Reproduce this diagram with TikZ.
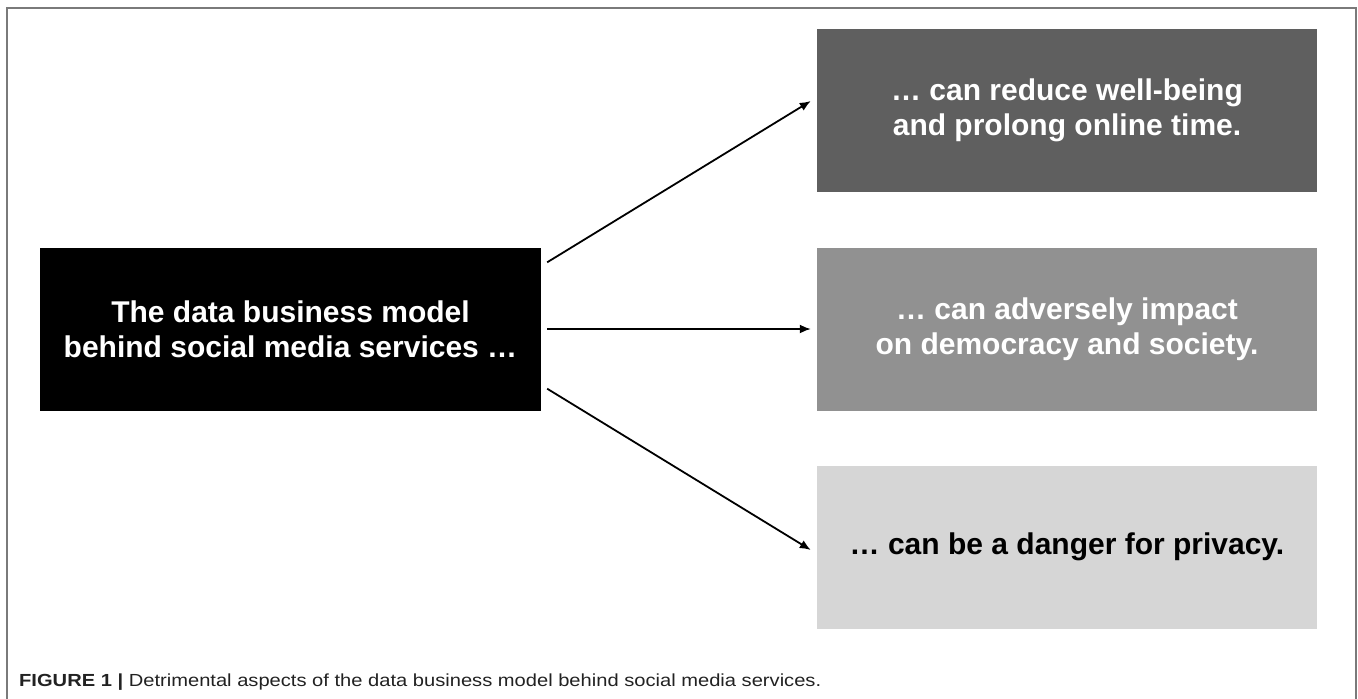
\documentclass[tikz,border=0pt]{standalone}
\usepackage{fontspec}
\setmainfont{Liberation Sans}
\newfontfamily\capfont{Liberation Sans}[FakeStretch=1.15]
\usetikzlibrary{arrows.meta}
\definecolor{frameline}{HTML}{7A7A7A}
\definecolor{darkbox}{HTML}{5F5F5F}
\definecolor{midbox}{HTML}{919191}
\definecolor{lightbox}{HTML}{D6D6D6}
\definecolor{captext}{HTML}{222222}
\tikzset{
  panel/.style={minimum width=500pt, minimum height=163pt, inner sep=0pt,
    align=center, font=\fontsize{30}{35}\selectfont\bfseries},
  srcbox/.style={panel, minimum width=501pt, fill=black, text=white},
  arr/.style={line width=1.8pt, -{Latex[length=11pt,width=9pt]}},
}
\begin{document}
\begin{tikzpicture}[x=1pt,y=-1pt]
  \useasboundingbox (0,0) rectangle (1358,699);
  % open frame around the figure
  \draw[frameline, line width=2pt] (7,699) -- (7,8) -- (1356,8) -- (1356,699);

  % source box
  \node[srcbox] (src) at (290.5,329) {The data business model\\behind social media services \dots};

  % consequence boxes
  \node[panel, fill=darkbox, text=white] (wellbeing) at (1067,110.5)
    {\dots\ can reduce well-being\\and prolong online time.};
  \node[panel, fill=midbox, text=white] (democracy) at (1067,329)
    {\dots\ can adversely impact\\on democracy and society.};
  \node[panel, fill=lightbox, text=black] (privacy) at (1067,547)
    {\dots\ can be a danger for privacy.};

  % connectors
  \draw[arr] ([xshift=6pt,yshift=-15pt]src.north east) -- ([xshift=-6pt,yshift=9.5pt]wellbeing.west);
  \draw[arr] ([xshift=6pt]src.east) -- ([xshift=-6pt]democracy.west);
  \draw[arr] ([xshift=6pt,yshift=22pt]src.south east) -- ([xshift=-6pt,yshift=-3pt]privacy.west);

  % caption
  \node[anchor=base west, inner sep=0pt, text=captext, font=\capfont\fontsize{17.5}{20}\selectfont] (caption) at (19,686)
    {\textbf{FIGURE 1 |} Detrimental aspects of the data business model behind social media services.};
\end{tikzpicture}
\end{document}
